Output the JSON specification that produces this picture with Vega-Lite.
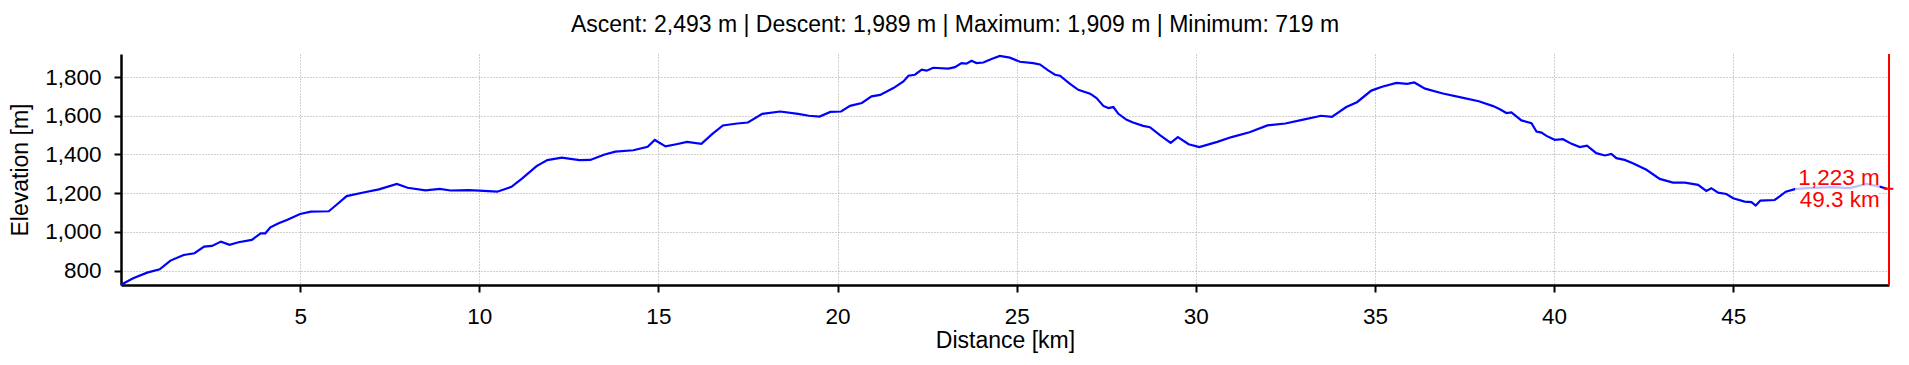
{
  "$schema": "https://vega.github.io/schema/vega-lite/v6.json",
  "width": 1768,
  "height": 231,
  "autosize": {"type": "none"},
  "padding": {"left": 121, "top": 54, "right": 20, "bottom": 80},
  "background": "white",
  "title": {
    "text": "Ascent: 2,493 m | Descent: 1,989 m | Maximum: 1,909 m | Minimum: 719 m",
    "anchor": "middle",
    "frame": "group",
    "dx": -50,
    "dy": 25,
    "offset": 22,
    "baseline": "alphabetic",
    "fontSize": 23,
    "fontWeight": "normal",
    "font": "Liberation Sans",
    "color": "black"
  },
  "config": {
    "font": "Liberation Sans",
    "view": {"stroke": null},
    "axis": {
      "labelFont": "Liberation Sans",
      "titleFont": "Liberation Sans",
      "labelFontSize": 22.5,
      "titleFontSize": 23,
      "titleFontWeight": "normal",
      "labelColor": "black",
      "titleColor": "black",
      "domainColor": "black",
      "domainWidth": 2.5,
      "tickColor": "black",
      "tickWidth": 2,
      "tickSize": 7,
      "labelPadding": 13,
      "grid": true,
      "gridDash": [1, 2],
      "gridColor": "#a0a0a0",
      "gridWidth": 1,
      "labelFlush": false,
      "labelOverlap": false
    }
  },
  "encoding": {
    "x": {
      "field": "d",
      "type": "quantitative",
      "scale": {"domain": [0, 49.35], "nice": false, "zero": false},
      "axis": {"title": "Distance [km]", "values": [5, 10, 15, 20, 25, 30, 35, 40, 45], "titlePadding": 2}
    },
    "y": {
      "field": "e",
      "type": "quantitative",
      "scale": {"domain": [726, 1919], "nice": false, "zero": false},
      "axis": {"title": "Elevation [m]", "values": [800, 1000, 1200, 1400, 1600, 1800], "format": ",d", "titlePadding": 12}
    }
  },
  "layer": [
    {
      "data": {"values": [
        {"d": 0, "e": 727}, {"d": 0.34, "e": 761}, {"d": 0.73, "e": 790}, {"d": 1.08, "e": 807},
        {"d": 1.38, "e": 852}, {"d": 1.75, "e": 881}, {"d": 2.05, "e": 890}, {"d": 2.32, "e": 924},
        {"d": 2.54, "e": 928}, {"d": 2.79, "e": 950}, {"d": 3.03, "e": 934}, {"d": 3.28, "e": 947},
        {"d": 3.65, "e": 959}, {"d": 3.9, "e": 993}, {"d": 4.03, "e": 993}, {"d": 4.17, "e": 1024},
        {"d": 4.4, "e": 1045}, {"d": 4.63, "e": 1062}, {"d": 5.0, "e": 1093}, {"d": 5.3, "e": 1105},
        {"d": 5.8, "e": 1107}, {"d": 6.0, "e": 1138}, {"d": 6.3, "e": 1185}, {"d": 6.8, "e": 1205},
        {"d": 7.2, "e": 1220}, {"d": 7.7, "e": 1248}, {"d": 8.0, "e": 1228}, {"d": 8.5, "e": 1215},
        {"d": 8.9, "e": 1222}, {"d": 9.2, "e": 1214}, {"d": 9.7, "e": 1216}, {"d": 10.0, "e": 1213},
        {"d": 10.5, "e": 1208}, {"d": 10.9, "e": 1233}, {"d": 11.2, "e": 1277}, {"d": 11.6, "e": 1340},
        {"d": 11.9, "e": 1371}, {"d": 12.3, "e": 1384}, {"d": 12.8, "e": 1371}, {"d": 13.1, "e": 1372},
        {"d": 13.5, "e": 1400}, {"d": 13.8, "e": 1415}, {"d": 14.3, "e": 1422}, {"d": 14.7, "e": 1440},
        {"d": 14.9, "e": 1475}, {"d": 15.2, "e": 1442}, {"d": 15.5, "e": 1453}, {"d": 15.8, "e": 1465},
        {"d": 16.2, "e": 1455}, {"d": 16.5, "e": 1505}, {"d": 16.8, "e": 1550}, {"d": 17.2, "e": 1560},
        {"d": 17.5, "e": 1565}, {"d": 17.9, "e": 1610}, {"d": 18.4, "e": 1622}, {"d": 18.9, "e": 1610},
        {"d": 19.2, "e": 1600}, {"d": 19.5, "e": 1596}, {"d": 19.8, "e": 1620}, {"d": 20.1, "e": 1622},
        {"d": 20.35, "e": 1651}, {"d": 20.68, "e": 1666}, {"d": 20.95, "e": 1700}, {"d": 21.19, "e": 1708},
        {"d": 21.56, "e": 1743}, {"d": 21.84, "e": 1777}, {"d": 21.98, "e": 1807}, {"d": 22.16, "e": 1812},
        {"d": 22.35, "e": 1838}, {"d": 22.49, "e": 1833}, {"d": 22.67, "e": 1848}, {"d": 23.09, "e": 1844},
        {"d": 23.28, "e": 1851}, {"d": 23.46, "e": 1872}, {"d": 23.6, "e": 1869}, {"d": 23.74, "e": 1884},
        {"d": 23.88, "e": 1872}, {"d": 24.07, "e": 1875}, {"d": 24.3, "e": 1893}, {"d": 24.53, "e": 1909},
        {"d": 24.81, "e": 1900}, {"d": 25.09, "e": 1879}, {"d": 25.46, "e": 1872}, {"d": 25.65, "e": 1865},
        {"d": 25.88, "e": 1834}, {"d": 26.07, "e": 1812}, {"d": 26.21, "e": 1807}, {"d": 26.49, "e": 1765},
        {"d": 26.72, "e": 1734}, {"d": 27.05, "e": 1714}, {"d": 27.23, "e": 1691}, {"d": 27.42, "e": 1651},
        {"d": 27.56, "e": 1640}, {"d": 27.7, "e": 1645}, {"d": 27.84, "e": 1610}, {"d": 28.07, "e": 1579},
        {"d": 28.25, "e": 1565}, {"d": 28.53, "e": 1548}, {"d": 28.72, "e": 1541}, {"d": 29.0, "e": 1500},
        {"d": 29.3, "e": 1460}, {"d": 29.5, "e": 1490}, {"d": 29.8, "e": 1453}, {"d": 30.1, "e": 1438},
        {"d": 30.6, "e": 1465}, {"d": 31.0, "e": 1490}, {"d": 31.5, "e": 1515}, {"d": 32.0, "e": 1550},
        {"d": 32.5, "e": 1560}, {"d": 33.0, "e": 1580}, {"d": 33.5, "e": 1600}, {"d": 33.8, "e": 1594},
        {"d": 34.2, "e": 1645}, {"d": 34.5, "e": 1670}, {"d": 34.9, "e": 1730}, {"d": 35.2, "e": 1750},
        {"d": 35.6, "e": 1770}, {"d": 35.9, "e": 1765}, {"d": 36.1, "e": 1772}, {"d": 36.4, "e": 1740},
        {"d": 36.9, "e": 1715}, {"d": 37.4, "e": 1695}, {"d": 37.9, "e": 1675}, {"d": 38.3, "e": 1650},
        {"d": 38.49, "e": 1634}, {"d": 38.67, "e": 1614}, {"d": 38.81, "e": 1617}, {"d": 39.09, "e": 1576},
        {"d": 39.37, "e": 1562}, {"d": 39.51, "e": 1519}, {"d": 39.65, "e": 1513}, {"d": 39.79, "e": 1496},
        {"d": 40.02, "e": 1476}, {"d": 40.25, "e": 1479}, {"d": 40.49, "e": 1455}, {"d": 40.72, "e": 1438},
        {"d": 40.92, "e": 1446}, {"d": 41.18, "e": 1407}, {"d": 41.42, "e": 1395}, {"d": 41.6, "e": 1403},
        {"d": 41.74, "e": 1381}, {"d": 41.97, "e": 1372}, {"d": 42.2, "e": 1355}, {"d": 42.58, "e": 1321},
        {"d": 42.95, "e": 1274}, {"d": 43.32, "e": 1255}, {"d": 43.65, "e": 1255}, {"d": 44.02, "e": 1243},
        {"d": 44.25, "e": 1212}, {"d": 44.39, "e": 1226}, {"d": 44.58, "e": 1203}, {"d": 44.81, "e": 1196},
        {"d": 45.0, "e": 1174}, {"d": 45.32, "e": 1157}, {"d": 45.51, "e": 1154}, {"d": 45.63, "e": 1136},
        {"d": 45.76, "e": 1162}, {"d": 46.16, "e": 1165}, {"d": 46.47, "e": 1208}, {"d": 46.72, "e": 1221},
        {"d": 47.04, "e": 1226}, {"d": 47.79, "e": 1231}, {"d": 48.25, "e": 1226}, {"d": 48.72, "e": 1248},
        {"d": 49.09, "e": 1234}, {"d": 49.3, "e": 1223}
      ]},
      "mark": {"type": "line", "color": "#0000ff", "strokeWidth": 2.2}
    },
    {
      "data": {"values": [{"d": 46.73, "d2": 49.09, "e": 1124, "e2": 1331}]},
      "mark": {"type": "rect", "fill": "white", "opacity": 0.75},
      "encoding": {"x2": {"field": "d2"}, "y2": {"field": "e2"}}
    },
    {
      "data": {"values": [{"d": 49.09, "e": 1223, "t": "1,223 m"}]},
      "mark": {"type": "text", "align": "right", "baseline": "alphabetic", "dy": -4, "fontSize": 22.5, "color": "#ff0000", "font": "Liberation Sans"},
      "encoding": {"text": {"field": "t"}}
    },
    {
      "data": {"values": [{"d": 49.09, "e": 1223, "t": "49.3 km"}]},
      "mark": {"type": "text", "align": "right", "baseline": "top", "dy": 0, "fontSize": 22.5, "color": "#ff0000", "font": "Liberation Sans"},
      "encoding": {"text": {"field": "t"}}
    },
    {
      "data": {"values": [{"d": 49.35, "e": 726, "e2": 1919}]},
      "mark": {"type": "rule", "color": "#ff0000", "strokeWidth": 2},
      "encoding": {"y2": {"field": "e2"}}
    },
    {
      "data": {"values": [{"d": 49.2, "d2": 49.47, "e": 1223}]},
      "mark": {"type": "rule", "color": "#ff0000", "strokeWidth": 2},
      "encoding": {"x2": {"field": "d2"}}
    }
  ]
}
